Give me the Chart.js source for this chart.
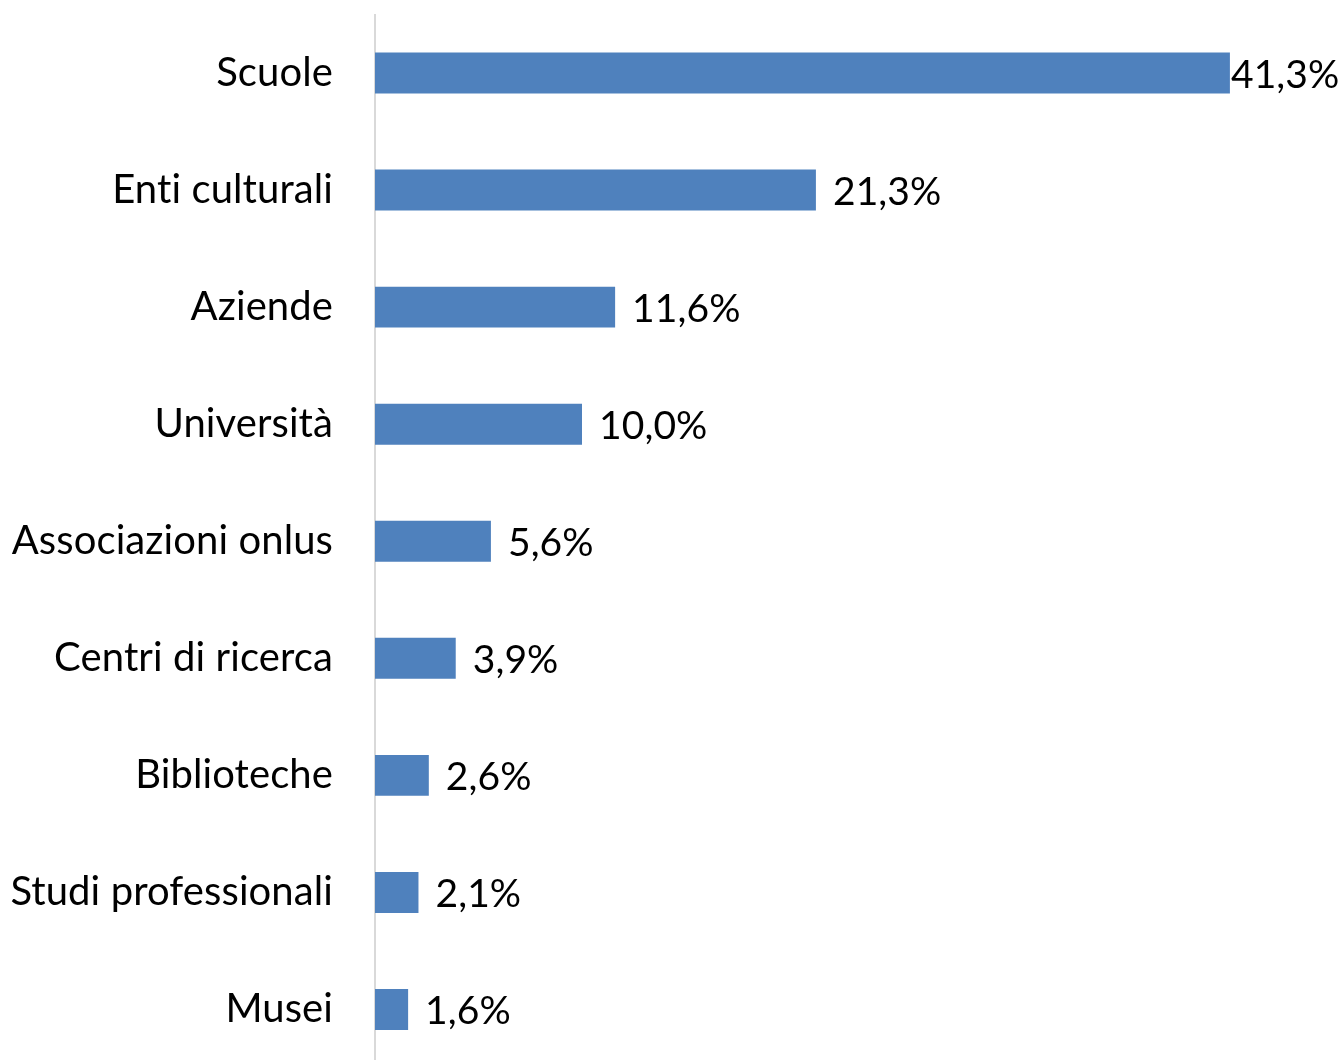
<!DOCTYPE html>
<html>
<head>
<meta charset="utf-8">
<script src="https://cdn.jsdelivr.net/npm/chart.js@4/dist/chart.umd.min.js"></script>
<style>
  html, body { margin: 0; padding: 0; background: #fff; overflow: hidden; }
  #myChart { display: block; }
</style>
</head>
<body>
<canvas id="myChart" width="1341" height="1068"></canvas>
<script>
// categories and values (%)
var categories = [
  'Scuole',
  'Enti culturali',
  'Aziende',
  'Università',
  'Associazioni onlus',
  'Centri di ricerca',
  'Biblioteche',
  'Studi professionali',
  'Musei',
];
var values = [41.3, 21.3, 11.6, 10.0, 5.6, 3.9, 2.6, 2.1, 1.6];

var FONT = 'Lato, "Open Sans", sans-serif';

// no "ti" ligature, like the original
var noLigatures = {
  id: 'noLigatures',
  beforeDraw: function (chart) {
    chart.ctx.letterSpacing = '0.1px';
  },
};

// value labels at the end of each bar, Italian decimal comma
var valueLabels = {
  id: 'valueLabels',
  afterDatasetsDraw: function (chart) {
    var ctx = chart.ctx;
    var meta = chart.getDatasetMeta(0);
    ctx.save();
    ctx.font = '39px ' + FONT;
    ctx.fillStyle = '#000';
    ctx.textBaseline = 'middle';
    meta.data.forEach(function (bar, i) {
      var txt = values[i].toFixed(1).replace('.', ',') + '%';
      var w = ctx.measureText(txt).width;
      // keep the label inside the canvas, but never over the bar
      var x = Math.max(bar.x + 1, Math.min(bar.x + 17, chart.width - 5 - w));
      ctx.fillText(txt, x, bar.y + 2);
    });
    ctx.restore();
  },
};

var ctx = document.getElementById('myChart').getContext('2d');
var chart = new Chart(ctx, {
  type: 'bar',
  data: {
    labels: categories,
    datasets: [
      {
        data: values,
        backgroundColor: '#4F81BD',
        barPercentage: 0.35,
        categoryPercentage: 1,
      },
    ],
  },
  plugins: [noLigatures, valueLabels],
  options: {
    indexAxis: 'y',
    responsive: false,
    animation: false,
    layout: { padding: { top: 14.5, right: 34.5, bottom: 0, left: 0 } },
    plugins: {
      legend: { display: false },
      tooltip: { enabled: false },
    },
    scales: {
      x: {
        display: false,
        min: 0,
        max: 45,
      },
      y: {
        afterFit: function (scale) {
          scale.width = 375;
          scale.paddingTop = 0;
          scale.paddingBottom = 0;
        },
        grid: { display: false, drawTicks: false },
        border: { display: true, color: '#D9D9D9', width: 2 },
        ticks: {
          padding: 42,
          color: '#000',
          font: { family: FONT, size: 40 },
        },
      },
    },
  },
});
</script>
</body>
</html>
